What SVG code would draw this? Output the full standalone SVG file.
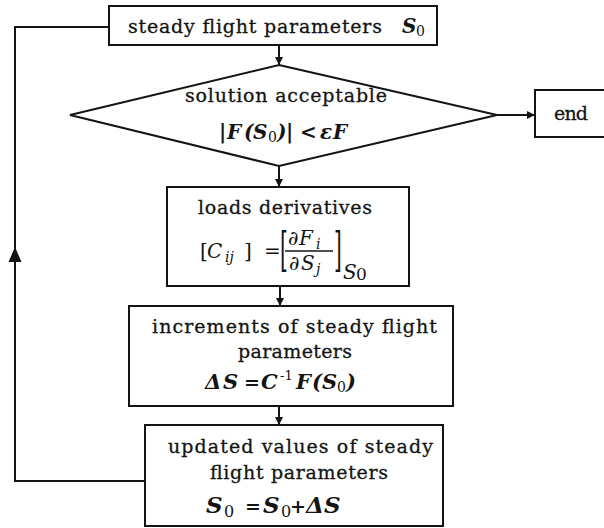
<svg xmlns="http://www.w3.org/2000/svg" width="604" height="528" viewBox="0 0 604 528">
  <defs>
    <style>
      .box { fill: #fff; stroke: #141414; stroke-width: 2; }
      .ln { fill: none; stroke: #141414; stroke-width: 2; }
      .t { font-family: "DejaVu Serif", "Liberation Serif", serif; font-size: 19px; fill: #141414; stroke: #141414; stroke-width: 0.3; }
      .m { font-family: "DejaVu Serif", "Liberation Serif", serif; font-style: italic; font-weight: bold; fill: #141414; }
      .mi { font-family: "DejaVu Serif", "Liberation Serif", serif; font-style: italic; font-size: 20px; fill: #141414; }
      .up { font-style: normal; }
      .sub { font-style: normal; font-weight: normal; }
    </style>
    <marker id="arr" markerUnits="userSpaceOnUse" markerWidth="10" markerHeight="10" refX="9" refY="5" orient="auto">
      <path d="M1,1 L9,5 L1,9 Z" fill="#141414"/>
    </marker>
    <marker id="arrBig" markerUnits="userSpaceOnUse" markerWidth="18" markerHeight="16" refX="16" refY="8" orient="auto">
      <path d="M1,1.5 L16,8 L1,14.5 Z" fill="#141414"/>
    </marker>
  </defs>

  <!-- connectors -->
  <g id="connectors">
    <path class="ln" d="M279,45 V65" marker-end="url(#arr)"/>
    <path class="ln" d="M497,115 H535" marker-end="url(#arr)"/>
    <path class="ln" d="M279,166 V187" marker-end="url(#arr)"/>
    <path class="ln" d="M280,286 V306" marker-end="url(#arr)"/>
    <path class="ln" d="M279,406 V425" marker-end="url(#arr)"/>
    <!-- feedback loop back to the start -->
    <path class="ln" d="M145,481 H15 V247" marker-end="url(#arrBig)"/>
    <path class="ln" d="M15,249 V27 H109"/>
  </g>

  <!-- start: steady flight parameters -->
  <g id="start">
    <rect class="box" x="109" y="6" width="328" height="39"/>
    <text class="t" x="128" y="33" textLength="254" lengthAdjust="spacing">steady flight parameters</text>
    <text class="m" font-size="20" y="33"><tspan x="402">S</tspan><tspan class="sub" font-size="14" x="416" dy="3">0</tspan></text>
  </g>

  <!-- decision -->
  <g id="decision">
    <polygon class="box" points="279,65 497,115 279,166 70,115"/>
    <text class="t" x="185" y="102" textLength="202" lengthAdjust="spacing">solution acceptable</text>
    <text class="m" font-size="20" y="139"><tspan x="219" class="up">|</tspan><tspan x="227">F</tspan><tspan x="244">(</tspan><tspan x="253">S</tspan><tspan class="sub" font-size="14" x="268" dy="3">0</tspan><tspan x="277" dy="-3">)</tspan><tspan x="286" class="up">|</tspan><tspan x="300" class="up">&lt;</tspan><tspan x="320">ε</tspan><tspan x="333">F</tspan></text>
  </g>

  <!-- end -->
  <g id="end">
    <rect class="box" x="535" y="90" width="80" height="47"/>
    <text class="t" x="554" y="120" textLength="34" lengthAdjust="spacing">end</text>
  </g>

  <!-- loads derivatives -->
  <g id="derivatives">
    <rect class="box" x="167" y="187" width="242" height="99"/>
    <text class="t" x="198" y="214" textLength="174" lengthAdjust="spacing">loads derivatives</text>
    <text class="mi" y="258"><tspan x="200" class="up">[</tspan><tspan x="207">C</tspan><tspan x="225" dy="4" font-size="14">ij</tspan><tspan x="244" dy="-4" class="up">]</tspan><tspan x="264" class="up">=</tspan></text>
    <text class="mi up" transform="translate(280,266) scale(1,2.3)" font-size="20">[</text>
    <text class="mi" y="245"><tspan x="288" class="up">∂</tspan><tspan x="299">F</tspan><tspan x="316" dy="4" font-size="14">i</tspan></text>
    <line x1="285" y1="251" x2="333" y2="251" stroke="#141414" stroke-width="1.6"/>
    <text class="mi" y="270"><tspan x="289" class="up">∂</tspan><tspan x="301">S</tspan><tspan x="316" dy="4" font-size="14">j</tspan></text>
    <text class="mi up" transform="translate(334,266) scale(1,2.3)" font-size="20">]</text>
    <text class="mi" y="279" font-size="18"><tspan x="343">S</tspan><tspan x="356" dy="1" class="up" font-size="17">0</tspan></text>
  </g>

  <!-- increments -->
  <g id="increments">
    <rect class="box" x="129" y="306" width="324" height="100"/>
    <text class="t" x="152" y="333" textLength="285" lengthAdjust="spacing">increments of steady flight</text>
    <text class="t" x="238" y="358" textLength="114" lengthAdjust="spacing">parameters</text>
    <text class="m" font-size="21" y="389"><tspan x="205">Δ</tspan><tspan x="223">S</tspan><tspan x="244" class="up" font-size="19">=</tspan><tspan x="261">C</tspan><tspan x="280" dy="-9" class="sub" font-size="13">-1</tspan><tspan x="296" dy="9">F</tspan><tspan x="312">(</tspan><tspan x="322">S</tspan><tspan class="sub" font-size="14" x="337" dy="3">0</tspan><tspan x="346" dy="-3">)</tspan></text>
  </g>

  <!-- updated values -->
  <g id="update">
    <rect class="box" x="145" y="425" width="298" height="101"/>
    <text class="t" x="168" y="453" textLength="265" lengthAdjust="spacing">updated values of steady</text>
    <text class="t" x="210" y="479" textLength="178" lengthAdjust="spacing">flight parameters</text>
    <text class="m" font-size="23" y="513"><tspan x="206">S</tspan><tspan class="sub" font-size="16" x="224" dy="4">0</tspan><tspan x="245" dy="-4" class="up" font-size="19">=</tspan><tspan x="263">S</tspan><tspan class="sub" font-size="16" x="281" dy="4">0</tspan><tspan x="290" dy="-4" class="up" font-size="19">+</tspan><tspan x="306">Δ</tspan><tspan x="324">S</tspan></text>
  </g>
</svg>
